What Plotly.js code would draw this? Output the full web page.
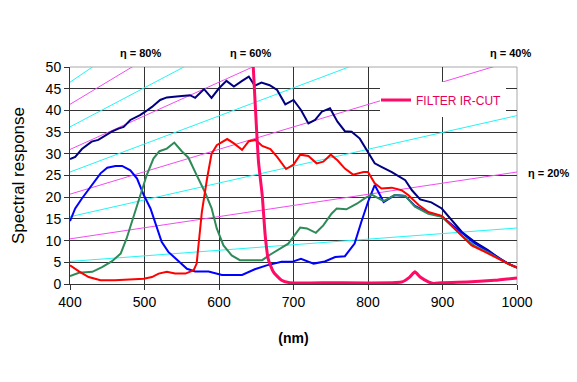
<!DOCTYPE html>
<html>
<head>
<meta charset="utf-8">
<script src="https://cdn.plot.ly/plotly-3.0.1.min.js"></script>
<style>html,body{margin:0;padding:0;background:#fff;}#chart{width:577px;height:382px;}</style>
</head>
<body>
<div id="chart"></div>
<script>
// ---------- data ----------
const xTicks = [400, 500, 600, 700, 800, 900, 1000];
const yTicks = [0, 5, 10, 15, 20, 25, 30, 35, 40, 45, 50];

// constant quantum-efficiency guide lines: response at 400 nm and at 1000 nm
const etaValues = [10, 20, 30, 40, 50, 60, 70, 80, 90];
const etaAt400  = [5.2, 10.4, 15.5, 20.7, 25.8, 31.0, 36.2, 41.4, 46.5];
const etaAt1000 = [12.9, 25.8, 38.8, 51.7, 64.6, 77.5, 90.4, 103.4, 116.3];
const etaLabels = ["η = 80%", "η = 60%", "η = 40%", "η = 20%"];

const monoNm = [400,407,416,429,438,447,456,465,472,481,494,501,510,521,530,543,557,561,568,580,590,600,610,620,631,640,648,657,668,678,689,700,710,720,729,738,749,759,769,778,789,798,809,818,832,850,859,870,885,899,912,926,943,961,977,988,1000];
const monoResp = [28.8,29.3,31.1,32.8,33.2,34.2,35.1,35.8,36.2,37.8,38.9,39.7,40.8,42.4,43.0,43.2,43.5,43.5,42.9,44.9,42.9,45.1,46.8,45.5,46.8,47.8,45.7,46.4,45.8,44.7,41.4,42.4,40.1,37.0,37.8,39.7,40.5,37.4,35.2,35.1,33.5,30.9,27.8,27.0,25.8,23.9,21.6,19.5,18.8,17.4,14.7,12.0,9.7,7.8,5.8,4.7,3.8];

const blueNm = [400,407,416,430,441,450,461,470,481,490,499,508,517,523,532,546,557,568,586,604,631,648,664,684,698,710,727,742,756,769,782,791,800,809,821,836,850,863,881,899,912,926,943,961,977,988,1000];
const blueResp = [14.5,17.4,19.7,22.8,25.5,26.8,27.2,27.2,26.2,24.3,20.5,17.4,12.8,9.7,7.4,5.1,3.5,2.9,2.9,2.1,2.1,3.4,4.3,5.1,5.1,5.8,4.7,5.2,6.2,6.4,9.3,14.3,18.9,22.8,18.9,20.5,20.3,18.0,16.4,15.6,13.8,11.8,9.4,7.6,5.8,4.7,3.8];

const greenNm = [400,412,430,443,456,468,476,485,494,503,512,520,530,540,550,559,570,581,590,597,606,617,628,658,669,682,693,709,718,730,740,751,758,771,785,796,805,821,836,850,863,881,899,912,926,943,961,977,988,1000];
const greenResp = [1.8,2.6,2.8,3.9,5.2,7.0,10.5,15.5,20.5,25.1,28.9,30.6,31.2,32.6,30.6,29.1,25.1,21.2,17.5,12.8,8.9,6.6,5.5,5.5,6.8,8.2,9.3,13.0,12.8,11.8,13.5,16.2,17.4,17.2,18.5,19.8,20.6,19.1,20.5,20.3,17.8,16.2,15.5,13.4,11.1,8.8,7.3,5.7,4.6,3.8];

const redNm = [400,412,425,441,460,479,499,510,519,530,541,555,566,570,577,584,590,597,611,620,631,640,649,658,669,678,690,700,709,720,731,740,750,759,769,780,794,800,809,818,832,845,854,868,881,899,912,926,939,957,975,988,1000];
const redResp = [4.3,2.9,1.6,0.85,0.85,1.1,1.2,1.6,2.4,2.8,2.4,2.4,3.2,4.7,16.6,24.3,30.0,32.0,33.4,32.4,30.9,32.9,33.2,31.8,31.1,29.3,26.5,27.5,29.8,29.5,27.8,28.2,29.8,28.5,26.6,25.2,25.8,25.8,23.2,22.0,22.2,21.6,20.5,18.2,16.6,15.7,13.5,11.2,8.9,7.4,5.8,4.7,3.8];

const filterNm = [400,620,640,646,653,658,662,666,673,684,695,750,845,856,863,870,881,888,899,939,970,1000];
const filterResp = [95,95,70,50,28.2,20.5,11.2,5.8,2.8,0.85,0.3,0.3,0.45,1.6,2.8,1.6,0.5,0.1,0.3,0.5,0.85,1.4];

// ---------- traces ----------
const traces = [];
etaValues.forEach((eta, i) => {
  traces.push({
    x: [xTicks[0], xTicks[xTicks.length - 1]],
    y: [etaAt400[i], etaAt1000[i]],
    mode: 'lines', type: 'scatter', showlegend: false, hoverinfo: 'skip',
    name: 'η = ' + eta + '%',
    line: {color: (i % 2 === 0) ? '#22F5F5' : '#F24CF2', width: 1}
  });
});
function curve(x, y, color, name) {
  return {x: x, y: y, mode: 'lines', type: 'scatter', name: name, showlegend: false,
          line: {color: color, width: 2}};
}
traces.push(curve(monoNm, monoResp, '#000080', 'Mono'));
traces.push(curve(blueNm, blueResp, '#0000FF', 'Blue'));
traces.push(curve(greenNm, greenResp, '#2E8B57', 'Green'));
traces.push(curve(redNm, redResp, '#FF0000', 'Red'));
traces.push({x: filterNm, y: filterResp, mode: 'lines', type: 'scatter', name: 'FILTER IR-CUT',
             showlegend: true, line: {color: '#FF0A66', width: 3, shape: 'spline', smoothing: 0.5}});

// ---------- layout ----------
const plotL = 70, plotR = 517, plotT = 67, plotB = 284;
const px2x = p => (p - plotL) / (plotR - plotL);
const py2y = p => (plotB - p) / (plotB - plotT);
const labelPos = [[140, 53], [250, 53], [510, 53], [548, 173]];

const annotations = etaLabels.map((t, i) => ({
  text: '<b>' + t + '</b>', xref: 'paper', yref: 'paper',
  x: px2x(labelPos[i][0]), y: py2y(labelPos[i][1]),
  xanchor: 'center', yanchor: 'middle', showarrow: false,
  font: {size: 11, color: '#000', family: 'Liberation Sans, Arial, sans-serif'}
}));

const layout = {
  width: 577, height: 382,
  margin: {l: plotL, r: 577 - plotR, t: plotT, b: 382 - plotB, pad: 0},
  paper_bgcolor: '#ffffff', plot_bgcolor: '#ffffff',
  font: {family: 'Liberation Sans, Arial, sans-serif', color: '#000'},
  showlegend: true,
  legend: {x: px2x(376), xanchor: 'left', y: py2y(100), yanchor: 'middle',
           bgcolor: 'rgba(0,0,0,0)', borderwidth: 0,
           font: {size: 12, color: '#E6005C', family: 'Liberation Sans, Arial, sans-serif'}},
  xaxis: {range: [400, 1000], tickvals: xTicks, ticktext: xTicks.map(String),
          ticks: 'outside', ticklen: 5, tickcolor: '#333', showline: true, linecolor: '#333', linewidth: 1,
          showgrid: true, gridcolor: '#333', gridwidth: 1, zeroline: false,
          tickfont: {size: 14, color: '#000'},
          title: {text: '<b>(nm)</b>', font: {size: 14, color: '#000'}, standoff: 24}},
  yaxis: {range: [0, 50], tickvals: yTicks, ticktext: yTicks.map(String),
          ticks: 'outside', ticklen: 5, tickcolor: '#333', showline: true, linecolor: '#333', linewidth: 1,
          showgrid: true, gridcolor: '#333', gridwidth: 1, zeroline: false,
          tickfont: {size: 14, color: '#000'},
          title: {text: 'Spectral response', font: {size: 17, color: '#000'}, standoff: 16}},
  shapes: [
    {type: 'line', xref: 'paper', yref: 'paper', x0: 0, x1: 1, y0: 1, y1: 1, layer: 'between',
     line: {color: '#A8A8A8', width: 1}},
    {type: 'line', xref: 'paper', yref: 'paper', x0: 1, x1: 1, y0: 0, y1: 1, layer: 'between',
     line: {color: '#A8A8A8', width: 1}},
    {type: 'rect', xref: 'paper', yref: 'paper', x0: px2x(380), x1: px2x(506), y0: py2y(117), y1: py2y(82),
     layer: 'above', fillcolor: '#ffffff', line: {width: 0}}
  ],
  annotations: annotations
};

Plotly.newPlot('chart', traces, layout, {displayModeBar: false, staticPlot: true});
</script>
</body>
</html>
